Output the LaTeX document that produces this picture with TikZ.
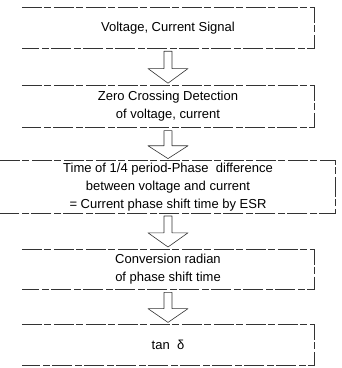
\documentclass[tikz,border=0pt]{standalone}
\usepackage{fontspec}
\setmainfont{Liberation Sans}
\usetikzlibrary{positioning,calc}

\begin{document}
\begin{tikzpicture}[font=\fontsize{13}{18}\selectfont, box/.style={align=center, inner sep=1pt, minimum width=292pt}, edge/.style={black!80, line width=0.7pt, dash pattern=on 20pt off 2pt on 7pt off 3pt}, flow/.style={black!80, line width=0.6pt, line join=round}]
\useasboundingbox (0,0) rectangle (342pt,-368pt);
\node[box, minimum height=40pt] (sig) at (168pt,-28pt) {Voltage, Current Signal};
\node[box, minimum height=42pt, below=37pt of sig] (zcd) {Zero Crossing Detection\\of voltage, current};
\node[box, minimum height=52pt, minimum width=335pt, below=33pt of zcd] (phase) {Time of 1/4 period-Phase\ \ difference\\between voltage and current\\= Current phase shift time by ESR};
\node[box, minimum height=40pt, below=36pt of phase] (rad) {Conversion radian\\of phase shift time};
\node[box, minimum height=41pt, below=35pt of rad] (tan) {tan\ \ δ};
% frames: the left side is lost in the scan
\foreach \n in {sig,zcd,phase,rad,tan}
  \draw[edge] (\n.north west) -- (\n.north east) -- (\n.south east) -- (\n.south west);
% hollow block arrows
\foreach \a/\b in {sig/zcd,zcd/phase,phase/rad,rad/tan}
  \draw[flow] ($(\a.south)+(-4pt,-3pt)$) -- ($(\a.south)!.55!(\b.north)+(-4pt,0)$) -- ++(-16pt,0) -- ($(\b.north)+(0,2pt)$) -- ($(\a.south)!.55!(\b.north)+(20pt,0)$) -- ++(-16pt,0) -- ($(\a.south)+(4pt,-3pt)$) -- cycle;
\end{tikzpicture}
\end{document}
